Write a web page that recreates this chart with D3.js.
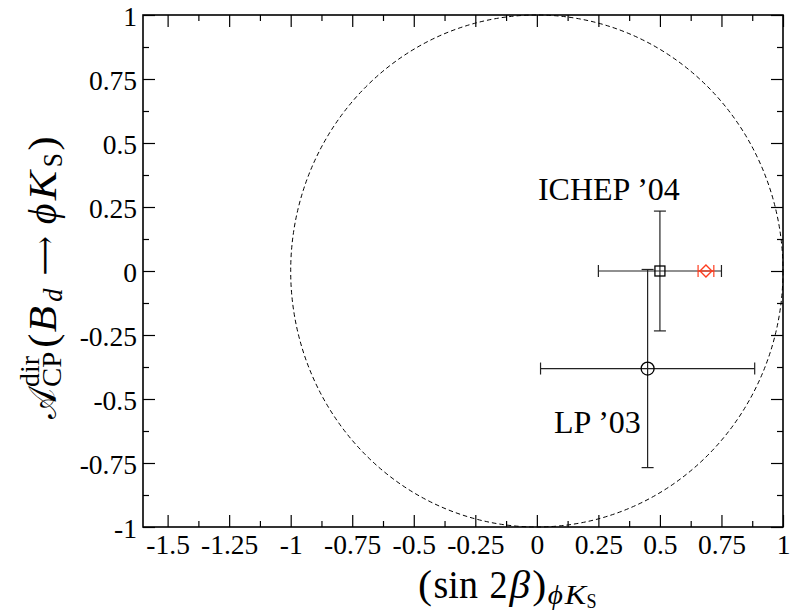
<!DOCTYPE html>
<html><head><meta charset="utf-8">
<script src="https://cdn.jsdelivr.net/npm/d3@7"></script>
<style>
body{margin:0;background:#fff;}
svg{display:block;}
text{font-family:"Liberation Serif","DejaVu Serif",serif;fill:#000;}
</style></head>
<body>
<svg id="c" width="790" height="614"></svg>
<script>
// ---- data ----
const xTickValues = [-1.5,-1.25,-1,-0.75,-0.5,-0.25,0,0.25,0.5,0.75,1];
const xTickLabels = ["-1.5","-1.25","-1","-0.75","-0.5","-0.25","0","0.25","0.5","0.75","1"];
const yTickValues = [-1,-0.75,-0.5,-0.25,0,0.25,0.5,0.75,1];
const yTickLabels = ["-1","-0.75","-0.5","-0.25","0","0.25","0.5","0.75","1"];
const xMinor = [-1.375,-1.125,-0.875,-0.625,-0.375,-0.125,0.125,0.375,0.625,0.875];
const yMinor = [-0.875,-0.625,-0.375,-0.125,0.125,0.375,0.625,0.875];

const experiments = ["ICHEP ’04", "LP ’03"];
const expSin2b    = [0.50, 0.45];
const expSin2bErr = [0.25, 0.435];
const expAcp      = [0.00, -0.381];
const expAcpErr   = [0.234, 0.387];
const expMarker   = ["square", "circle"];
const labelX      = [0.2925, 0.4225];
const labelY      = [0.277, -0.633];
const labelAnchor = ["middle", "end"];

const smSin2b    = [0.687];
const smSin2bErr = [0.032];
const smAcp      = [0.0];

const boundRadius = [1];

// ---- layout ----
const svg = d3.select("#c");
const L = 143, R = 783, T = 15, B = 527;
const x = d3.scaleLinear().domain([-1.6, 1]).range([L, R]);
const y = d3.scaleLinear().domain([-1, 1]).range([B, T]);

// dashed unit circle
svg.append("ellipse")
  .attr("cx", x(0)).attr("cy", y(0))
  .attr("rx", x(boundRadius[0]) - x(0)).attr("ry", y(0) - y(boundRadius[0]))
  .attr("fill","none").attr("stroke","#000").attr("stroke-width",1)
  .attr("stroke-dasharray","4.5,3");

// axes
const fmtX = d => xTickLabels[xTickValues.indexOf(d)];
const fmtY = d => yTickLabels[yTickValues.indexOf(d)];
function styleAxis(g){
  g.select(".domain").remove();
  g.selectAll("line").attr("stroke","#000").attr("stroke-width",1.2);
  g.selectAll("text").attr("font-size",27.5).attr("font-family","Liberation Serif");
}
svg.append("g").attr("transform",`translate(0,${B})`)
  .call(d3.axisBottom(x).tickValues(xTickValues).tickFormat(fmtX).tickSizeInner(-12).tickSizeOuter(0).tickPadding(7))
  .call(styleAxis);
svg.append("g").attr("transform",`translate(0,${B})`)
  .call(d3.axisBottom(x).tickValues(xMinor).tickFormat("").tickSizeInner(-6).tickSizeOuter(0))
  .call(styleAxis);
svg.append("g").attr("transform",`translate(0,${T})`)
  .call(d3.axisTop(x).tickValues(xTickValues).tickFormat("").tickSizeInner(-12).tickSizeOuter(0))
  .call(styleAxis);
svg.append("g").attr("transform",`translate(0,${T})`)
  .call(d3.axisTop(x).tickValues(xMinor).tickFormat("").tickSizeInner(-6).tickSizeOuter(0))
  .call(styleAxis);
svg.append("g").attr("transform",`translate(${L},0)`)
  .call(d3.axisLeft(y).tickValues(yTickValues).tickFormat(fmtY).tickSizeInner(-12).tickSizeOuter(0).tickPadding(6))
  .call(styleAxis)
  .selectAll("text").attr("dy","0.38em");
svg.append("g").attr("transform",`translate(${L},0)`)
  .call(d3.axisLeft(y).tickValues(yMinor).tickFormat("").tickSizeInner(-6).tickSizeOuter(0))
  .call(styleAxis);
svg.append("g").attr("transform",`translate(${R},0)`)
  .call(d3.axisRight(y).tickValues(yTickValues).tickFormat("").tickSizeInner(-12).tickSizeOuter(0))
  .call(styleAxis);
svg.append("g").attr("transform",`translate(${R},0)`)
  .call(d3.axisRight(y).tickValues(yMinor).tickFormat("").tickSizeInner(-6).tickSizeOuter(0))
  .call(styleAxis);

// frame
svg.append("rect").attr("x",L).attr("y",T).attr("width",R-L).attr("height",B-T)
  .attr("fill","none").attr("stroke","#000").attr("stroke-width",1.6);

// error bars
const cap = 6;
function errBar(g, cx, cy, xe, ye, color){
  if (xe > 0){
    g.append("line").attr("x1",x(cx-xe)).attr("x2",x(cx+xe)).attr("y1",y(cy)).attr("y2",y(cy)).attr("stroke",color);
    [cx-xe, cx+xe].forEach(v => g.append("line").attr("x1",x(v)).attr("x2",x(v)).attr("y1",y(cy)-cap).attr("y2",y(cy)+cap).attr("stroke",color));
  }
  if (ye > 0){
    g.append("line").attr("x1",x(cx)).attr("x2",x(cx)).attr("y1",y(cy-ye)).attr("y2",y(cy+ye)).attr("stroke",color);
    [cy-ye, cy+ye].forEach(v => g.append("line").attr("x1",x(cx)-cap).attr("x2",x(cx)+cap).attr("y1",y(v)).attr("y2",y(v)).attr("stroke",color));
  }
}
const eg = svg.append("g").attr("stroke-width",1.2);
experiments.forEach((name,i) => {
  errBar(eg, expSin2b[i], expAcp[i], expSin2bErr[i], expAcpErr[i], "#222");
  const px = x(expSin2b[i]), py = y(expAcp[i]);
  if (expMarker[i] === "square"){
    eg.append("rect").attr("x",px-5).attr("y",py-5).attr("width",10).attr("height",10)
      .attr("fill","none").attr("stroke","#000").attr("stroke-width",1.3);
  } else {
    eg.append("circle").attr("cx",px).attr("cy",py).attr("r",6.5)
      .attr("fill","none").attr("stroke","#000").attr("stroke-width",1.3);
  }
  svg.append("text").attr("x",x(labelX[i])).attr("y",y(labelY[i]))
    .attr("text-anchor",labelAnchor[i]).attr("font-size",32).text(name);
});
smSin2b.forEach((v,i) => {
  errBar(eg, v, smAcp[i], smSin2bErr[i], 0, "#ff3c1e");
  const px = x(v), py = y(smAcp[i]);
  eg.append("path").attr("d",`M${px-6},${py}L${px},${py-6}L${px+6},${py}L${px},${py+6}Z`)
    .attr("fill","none").attr("stroke","#ff3c1e").attr("stroke-width",1.3);
});

// math-like label: sequential layout, each piece given a TeX-like advance width (em of its size)
function mathLabel(g, pieces){
  let u = 0, stackU = null, stackW = 0;
  pieces.forEach(p => {
    if (p.gap){ u += p.gap; return; }
    const adv = p.w * p.size;
    let start = u;
    if (p.stack === "next") start = stackU;
    const t = g.append("text").attr("x", start + (p.dx||0)).attr("y", p.dy||0)
      .attr("font-size", p.size).attr("font-style", p.it ? "italic" : "normal")
      .attr("textLength", adv * (p.ink||0.9)).attr("lengthAdjust","spacingAndGlyphs")
      .text(p.t);
    if (p.fam) t.attr("font-family", p.fam);
    if (p.stack === "start"){ stackU = u; stackW = adv; return; }
    if (p.stack === "next"){ u = stackU + Math.max(stackW, adv); return; }
    u += adv;
  });
  return u;
}

// y label (rotated)
const F = 40, S1 = 28, S2 = 20;
const yl = svg.append("g").attr("transform","translate(56,419) rotate(-90)");
mathLabel(yl, [
  {t:"𝒜", size:F, w:0.80, ink:0.95},
  {t:"dir", size:S1, w:1.23, dy:-17, stack:"start"},
  {t:"CP", size:S1, w:1.40, dy:5, stack:"next"},
  {t:"(", size:F, w:0.39},
  {t:"B", size:F, it:true, w:0.76, ink:0.86},
  {t:"d", size:S1, it:true, w:0.52, dy:6},
  {gap:0.3*F},
  {t:"⟶", size:30, w:1.3, ink:1.0, fam:"DejaVu Sans", dy:-1},
  {gap:0.3*F},
  {t:"ϕ", size:F, it:true, w:0.60, ink:0.86},
  {t:"K", size:F, it:true, w:0.85, ink:0.86},
  {t:"S", size:S1, w:0.56, dy:6, dx:-1},
  {t:")", size:F, w:0.39}
]);

// x label
const xl = svg.append("g").attr("transform","translate(418,598)");
mathLabel(xl, [
  {t:"(", size:F, w:0.39},
  {t:"sin", size:F, w:1.23},
  {gap:0.167*F},
  {t:"2", size:F, w:0.5},
  {t:"β", size:F, it:true, w:0.57},
  {t:")", size:F, w:0.39},
  {t:"ϕ", size:S1, it:true, w:0.60, dy:6},
  {t:"K", size:S1, it:true, w:0.85, dy:6},
  {t:"S", size:S2, w:0.56, dy:10, dx:-2}
]);
</script>
</body></html>
